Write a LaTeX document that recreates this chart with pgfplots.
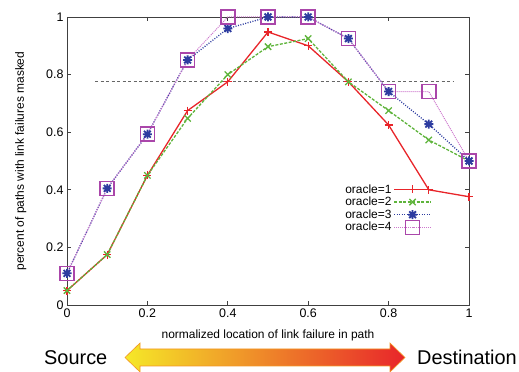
\documentclass[border=0pt]{standalone}
\usepackage{pgfplots}
\pgfplotsset{compat=1.18}
\usepackage{fontspec}
\setmainfont{Liberation Sans}
\definecolor{cred}{RGB}{232,37,42}
\definecolor{cgreen}{RGB}{95,180,60}
\definecolor{cblue}{RGB}{45,60,160}
\definecolor{cviolet}{RGB}{170,70,170}
\definecolor{cpink}{RGB}{205,120,205}
\definecolor{cyellow}{RGB}{245,232,40}
\definecolor{corange}{RGB}{243,150,35}
\pgfdeclareplotmark{gpstar}{%
  \pgfpathmoveto{\pgfqpoint{-\pgfplotmarksize}{0pt}}\pgfpathlineto{\pgfqpoint{\pgfplotmarksize}{0pt}}%
  \pgfpathmoveto{\pgfqpoint{0pt}{-\pgfplotmarksize}}\pgfpathlineto{\pgfqpoint{0pt}{\pgfplotmarksize}}%
  \pgfpathmoveto{\pgfqpoint{-0.75\pgfplotmarksize}{-0.75\pgfplotmarksize}}\pgfpathlineto{\pgfqpoint{0.75\pgfplotmarksize}{0.75\pgfplotmarksize}}%
  \pgfpathmoveto{\pgfqpoint{-0.75\pgfplotmarksize}{0.75\pgfplotmarksize}}\pgfpathlineto{\pgfqpoint{0.75\pgfplotmarksize}{-0.75\pgfplotmarksize}}%
  \pgfusepathqstroke}
\begin{document}
\begin{tikzpicture}
\useasboundingbox (0bp,0bp) rectangle (519bp,372bp);
\shadedraw[left color=cyellow, middle color=corange, right color=cred, draw=corange, line width=0.6bp]
  (125bp,14.5bp) -- (140bp,29bp) -- (140bp,23bp) -- (390bp,23bp) -- (390bp,29bp) -- (405bp,14.5bp)
  -- (390bp,0bp) -- (390bp,6bp) -- (140bp,6bp) -- (140bp,0bp) -- cycle;
\node[font=\fontsize{20}{24}\selectfont, anchor=base west, inner sep=0pt] at (44bp,8bp) {Source};
\node[font=\fontsize{20}{24}\selectfont, anchor=base east, inner sep=0pt] at (517bp,8bp) {Destination};
\begin{axis}[
  at={(67bp,67bp)}, anchor=south west,
  scale only axis, width=402bp, height=288bp,
  xmin=0, xmax=1, ymin=0, ymax=1,
  clip=false,
  axis line style={black!75, line width=0.7bp},
  xtick={0,0.2,0.4,0.6,0.8,1}, ytick={0,0.2,0.4,0.6,0.8,1},
  xtick pos=both, ytick pos=both,
  tick align=inside, major tick length=4bp,
  tick style={black!75, line width=0.7bp},
  /pgf/number format/assume math mode=true,
  tick label style={font=\fontsize{12.5}{14}\selectfont},
  xlabel={normalized location of link failure in path},
  ylabel={percent of paths with link failures masked},
  every axis x label/.style={at={(axis description cs:0.5,-0.1146)}, anchor=base, font=\fontsize{12}{14}\selectfont},
  every axis y label/.style={at={(axis description cs:-0.107,0.5)}, rotate=90, anchor=base, font=\fontsize{12}{14}\selectfont},
  legend plot pos=right,
  legend cell align=right,
  legend style={draw=none, fill=none, at={(rel axis cs:0.91,0.43)}, anchor=north east,
    font=\fontsize{12}{14}\selectfont, row sep=-1.5bp, inner sep=1bp},
  legend image code/.code={\draw[mark repeat=2,mark phase=2] plot coordinates {(0cm,0cm) (0.65cm,0cm) (1.3cm,0cm)};},
]
\addplot[gray!80!black, dashed, line width=0.7bp, dash pattern=on 3bp off 2.5bp, forget plot] coordinates {(0.07,0.777) (0.96,0.777)};
\addplot[cred, solid, line width=1.3bp, mark=+, mark size=4bp, mark options={solid}] coordinates {
(0,0.05)(0.1,0.175)(0.2,0.45)(0.3,0.675)(0.4,0.775)(0.5,0.948)(0.6,0.9)(0.7,0.775)(0.8,0.625)(0.9,0.40)(1,0.376)};
\addlegendentry{oracle=1}
\addplot[cgreen, line width=1.3bp, dash pattern=on 3bp off 1.5bp, mark=x, mark size=4.5bp, mark options={solid}] coordinates {
(0,0.05)(0.1,0.175)(0.2,0.45)(0.3,0.648)(0.4,0.8)(0.5,0.897)(0.6,0.925)(0.7,0.775)(0.8,0.675)(0.9,0.573)(1,0.5)};
\addlegendentry{oracle=2}
\addplot[cblue, line width=1.3bp, dash pattern=on 1bp off 1.5bp, mark=gpstar, mark size=4.5bp, mark options={solid, line width=1.8bp}] coordinates {
(0,0.11)(0.1,0.405)(0.2,0.593)(0.3,0.851)(0.4,0.96)(0.5,1)(0.6,1)(0.7,0.925)(0.8,0.741)(0.9,0.628)(1,0.5)};
\addlegendentry{oracle=3}
\addplot[cpink, line width=1bp, dash pattern=on 1bp off 1bp, mark=square, mark size=7bp, mark options={solid, draw=cviolet, line width=1.5bp}] coordinates {
(0,0.11)(0.1,0.405)(0.2,0.593)(0.3,0.851)(0.4,1)(0.5,1)(0.6,1)(0.7,0.925)(0.8,0.741)(0.9,0.741)(1,0.5)};
\addlegendentry{oracle=4}
\end{axis}
\end{tikzpicture}
\end{document}
